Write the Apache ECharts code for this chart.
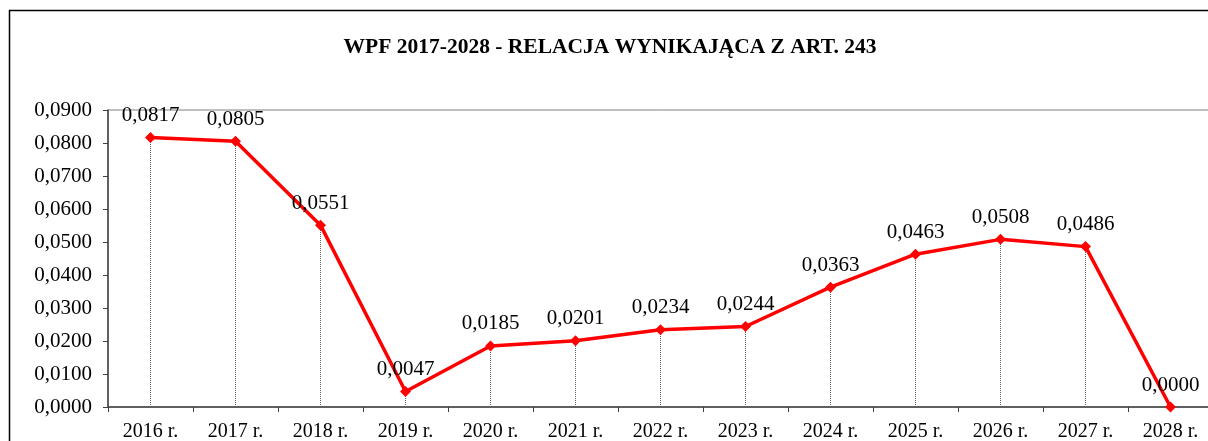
<!DOCTYPE html>
<html><head><meta charset="utf-8">
<script src="https://cdn.jsdelivr.net/npm/echarts@6/dist/echarts.min.js"></script>
<style>html,body{margin:0;padding:0;background:#fff;}#c{width:1208px;height:441px;}</style>
</head><body><div id="c"></div>
<script>
const categories = ['2016 r.','2017 r.','2018 r.','2019 r.','2020 r.','2021 r.','2022 r.','2023 r.','2024 r.','2025 r.','2026 r.','2027 r.','2028 r.'];
const values = [0.0817,0.0805,0.0551,0.0047,0.0185,0.0201,0.0234,0.0244,0.0363,0.0463,0.0508,0.0486,0.0000];
const titleText = 'WPF 2017-2028 - RELACJA WYNIKAJĄCA Z ART. 243';

const fmt = v => v.toFixed(4).replace('.', ',');
const FONT = '"Liberation Serif","Times New Roman",serif';
const chart = echarts.init(document.getElementById('c'));
chart.setOption({
  animation:false,
  backgroundColor:'#fff',
  title:{text:titleText,left:605,textAlign:'center',top:31,textStyle:{fontFamily:FONT,fontWeight:'bold',fontSize:21.5,color:'#000'}},
  graphic:[{type:'rect',shape:{x:9.5,y:10.5,width:1400,height:600},style:{fill:'none',stroke:'#000',lineWidth:1.5},silent:true}],
  grid:{left:108,top:110,width:1105,height:297,outerBoundsMode:'none',containLabel:false,show:true,borderColor:'#808080',borderWidth:1,backgroundColor:'transparent'},
  xAxis:{type:'category',data:categories,boundaryGap:true,
    axisLine:{lineStyle:{color:'#404040',width:1.5}},
    axisTick:{show:true,length:5,lineStyle:{color:'#404040'}},
    axisLabel:{fontFamily:FONT,fontSize:20,color:'#000',margin:15,interval:0}},
  yAxis:{type:'value',min:0,max:0.09,interval:0.01,
    axisLine:{show:true,lineStyle:{color:'#404040',width:1.5}},
    axisTick:{show:true,length:5,lineStyle:{color:'#404040'}},
    splitLine:{show:false},
    axisLabel:{fontFamily:FONT,fontSize:21,color:'#000',margin:16,formatter:v=>fmt(v)}},
  series:[{type:'line',data:values,
    lineStyle:{color:'#ff0000',width:3.5},
    itemStyle:{color:'#ff0000'},
    symbol:'diamond',symbolSize:11,
    label:{show:true,position:'top',distance:6,fontFamily:FONT,fontSize:21,color:'#000',formatter:p=>fmt(p.value)},
    markLine:{silent:true,symbol:'none',label:{show:false},z:1,
      lineStyle:{color:'#606060',type:'dotted',width:1},
      data:values.map((v,i)=>[{coord:[i,0]},{coord:[i,v]}])},
    z:3}]
});
</script></body></html>
